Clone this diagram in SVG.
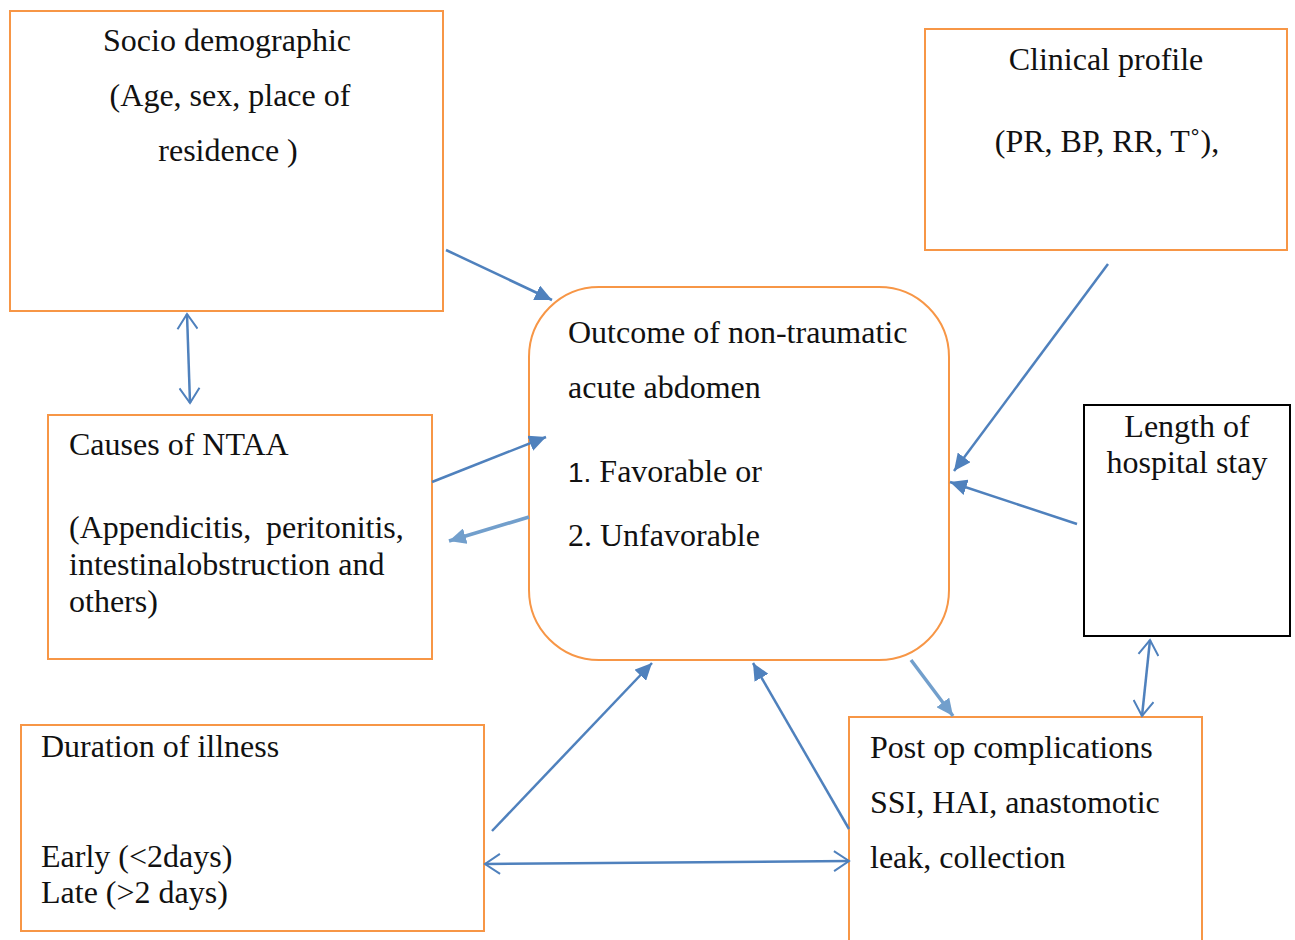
<svg xmlns="http://www.w3.org/2000/svg" width="1295" height="940" viewBox="0 0 1295 940">
<style>
.box{fill:#fff;stroke:#F79646;stroke-width:2}
.bbox{fill:#fff;stroke:#000;stroke-width:2}
text{font-family:"Liberation Serif","Times New Roman",serif;font-size:32px;fill:#111}
.c{text-anchor:middle}
.sans{font-family:"Liberation Sans",Arial,sans-serif;font-size:28px}
.ln{stroke:#4F81BD;stroke-width:2.5;fill:none}
.lt{stroke:#729FCC;stroke-width:3.5;fill:none}
</style>
<defs>
<marker id="ah" markerUnits="userSpaceOnUse" markerWidth="18" markerHeight="16" refX="17" refY="8" orient="auto"><path d="M0,0 L17,8 L0,16 z" fill="#4F81BD"/></marker>
<marker id="ahl" markerUnits="userSpaceOnUse" markerWidth="18" markerHeight="16" refX="17" refY="8" orient="auto"><path d="M0,0 L17,8 L0,16 z" fill="#729FCC"/></marker>
<marker id="av" markerUnits="userSpaceOnUse" markerWidth="18" markerHeight="22" refX="16" refY="11" orient="auto-start-reverse"><path d="M1,1 L16,11 L1,21" fill="none" stroke="#4F81BD" stroke-width="2"/></marker>
</defs>
<rect width="1295" height="940" fill="#fff"/>
<g id="socio">
<rect class="box" x="10" y="11" width="433" height="300"/>
<text class="c" x="227" y="51">Socio demographic</text>
<text class="c" x="230" y="106">(Age, sex, place of</text>
<text class="c" x="228" y="161">residence )</text>
</g>
<g id="clinical">
<rect class="box" x="925" y="29" width="362" height="221"/>
<text class="c" x="1106" y="70">Clinical profile</text>
<text class="c" x="1107" y="152">(PR, BP, RR, T˚),</text>
</g>
<g id="outcome">
<rect class="box" x="529" y="287" width="420" height="373" rx="70" ry="70"/>
<text x="568" y="343">Outcome of non-traumatic</text>
<text x="568" y="398">acute abdomen</text>
<text x="568" y="482"><tspan class="sans">1.</tspan> Favorable or</text>
<text x="568" y="546">2. Unfavorable</text>
</g>
<g id="causes">
<rect class="box" x="48" y="415" width="384" height="244"/>
<text x="69" y="455">Causes of NTAA</text>
<text x="69" y="538">(Appendicitis,</text>
<text x="266" y="538">peritonitis,</text>
<text x="69" y="575">intestinalobstruction and</text>
<text x="69" y="612">others)</text>
</g>
<g id="length">
<rect class="bbox" x="1084" y="405" width="206" height="231"/>
<text class="c" x="1187" y="437">Length of</text>
<text class="c" x="1187" y="473">hospital stay</text>
</g>
<g id="duration">
<rect class="box" x="21" y="725" width="463" height="206"/>
<text x="41" y="757">Duration of illness</text>
<text x="41" y="867">Early (&lt;2days)</text>
<text x="41" y="903">Late (&gt;2 days)</text>
</g>
<g id="postop">
<path class="box" d="M849,942 L849,717 L1202,717 L1202,942"/>
<text x="870" y="758">Post op complications</text>
<text x="870" y="813">SSI, HAI, anastomotic</text>
<text x="870" y="868">leak, collection</text>
</g>
<g id="connectors">
<line class="ln" x1="446" y1="250" x2="552" y2="300" marker-end="url(#ah)"/>
<line class="ln" x1="187" y1="314" x2="190" y2="403" marker-start="url(#av)" marker-end="url(#av)"/>
<line class="ln" x1="432" y1="482" x2="546" y2="437" marker-end="url(#ah)"/>
<line class="lt" x1="529" y1="517" x2="449" y2="541" marker-end="url(#ahl)"/>
<line class="ln" x1="1108" y1="264" x2="954" y2="471" marker-end="url(#ah)"/>
<line class="ln" x1="1077" y1="524" x2="950" y2="482" marker-end="url(#ah)"/>
<line class="lt" x1="911" y1="660" x2="953" y2="716" marker-end="url(#ahl)"/>
<line class="ln" x1="1150" y1="640" x2="1142" y2="716" marker-start="url(#av)" marker-end="url(#av)"/>
<line class="ln" x1="492" y1="831" x2="652" y2="663" marker-end="url(#ah)"/>
<line class="ln" x1="849" y1="829" x2="753" y2="663" marker-end="url(#ah)"/>
<line class="ln" x1="485" y1="864" x2="849" y2="861" marker-start="url(#av)" marker-end="url(#av)"/>
</g>
</svg>
